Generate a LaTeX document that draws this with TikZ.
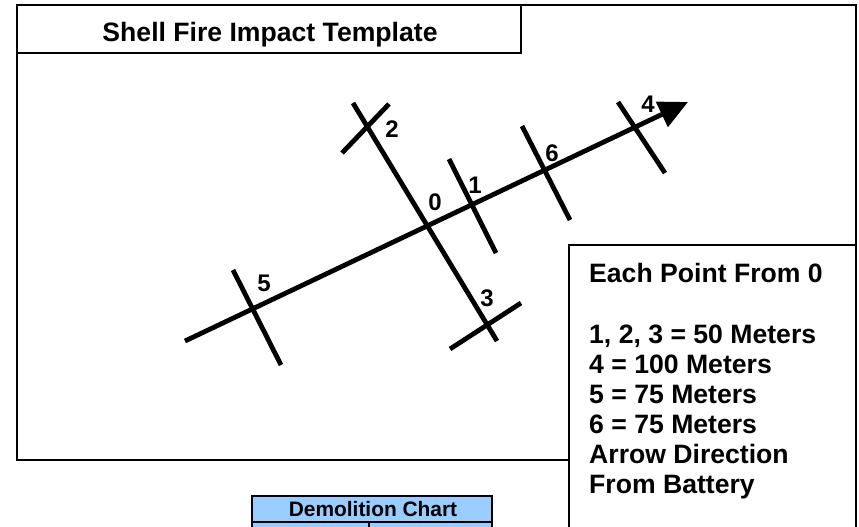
\documentclass[tikz,border=0pt]{standalone}
\usepackage{fontspec}
\setmainfont{Liberation Sans}
\usetikzlibrary{arrows.meta}
\definecolor{chartblue}{RGB}{153,204,255}
\begin{document}
\begin{tikzpicture}[x=1pt,y=-1pt,
  frame/.style={draw=black,line width=2pt},
  axis/.style={draw=black,line width=4.8pt},
  lbl/.style={font=\bfseries\fontsize{24}{28}\selectfont,inner sep=0pt},
  info/.style={font=\bfseries\fontsize{26.6}{30}\selectfont,inner sep=0pt,anchor=base west},
  cell/.style={draw=black,line width=2.5pt,fill=chartblue}]
\useasboundingbox (0,0) rectangle (859,527);
\clip (0,0) rectangle (859,527);
\fill[white] (0,0) rectangle (859,527);
% frame
\draw[frame] (17,5) rectangle (856,460);
\draw[frame,fill=white] (17,5) rectangle (521,53);
\node[font=\bfseries\fontsize{26.6}{30}\selectfont,anchor=base,inner sep=0pt] (title) at (270,42) {Shell Fire Impact Template};
% coordinates
\coordinate (start) at (185,341);
\coordinate (tip) at (688,102);
\coordinate (pA) at (353,103);
\coordinate (pB) at (497,341);
\coordinate (t2a) at (342,153); \coordinate (t2b) at (389,104);
\coordinate (t3a) at (450,349); \coordinate (t3b) at (521,303);
\coordinate (t1a) at (449,159); \coordinate (t1b) at (496,253);
\coordinate (t6a) at (522,126); \coordinate (t6b) at (570,220);
\coordinate (t4a) at (618,102); \coordinate (t4b) at (665,173);
\coordinate (t5a) at (233,270); \coordinate (t5b) at (281,365);
% lines
\draw[axis,-{Triangle[length=29pt,width=27pt]}] (start) -- (tip);
\draw[axis] (pA) -- (pB);
\draw[axis] (t2a) -- (t2b);
\draw[axis] (t3a) -- (t3b);
\draw[axis] (t1a) -- (t1b);
\draw[axis] (t6a) -- (t6b);
\draw[axis] (t4a) -- (t4b);
\draw[axis] (t5a) -- (t5b);
% labels
\node[lbl] (l0) at (435,202) {0};
\node[lbl] (l1) at (475,185) {1};
\node[lbl] (l2) at (392,129) {2};
\node[lbl] (l3) at (487,298) {3};
\node[lbl] (l4) at (648,104) {4};
\node[lbl] (l5) at (264,283) {5};
\node[lbl] (l6) at (552,153) {6};
% info box
\draw[frame,fill=white] (569,245) rectangle (856,545);
\node[info] (i1) at (589,282) {Each Point From 0};
\node[info] (i2) at (589,343) {1, 2, 3 = 50 Meters};
\node[info] (i3) at (589,373) {4 = 100 Meters};
\node[info] (i4) at (589,403) {5 = 75 Meters};
\node[info] (i5) at (589,433) {6 = 75 Meters};
\node[info] (i6) at (589,463) {Arrow Direction};
\node[info] (i7) at (589,493) {From Battery};
% demolition chart
\draw[cell] (252,522) rectangle (369,548);
\draw[cell] (369,522) rectangle (492,548);
\draw[cell] (252,496) rectangle (492,522);
\node[font=\bfseries\fontsize{20.9}{24}\selectfont,anchor=base,inner sep=0pt] (chart) at (373,516) {Demolition Chart};
\end{tikzpicture}
\end{document}
